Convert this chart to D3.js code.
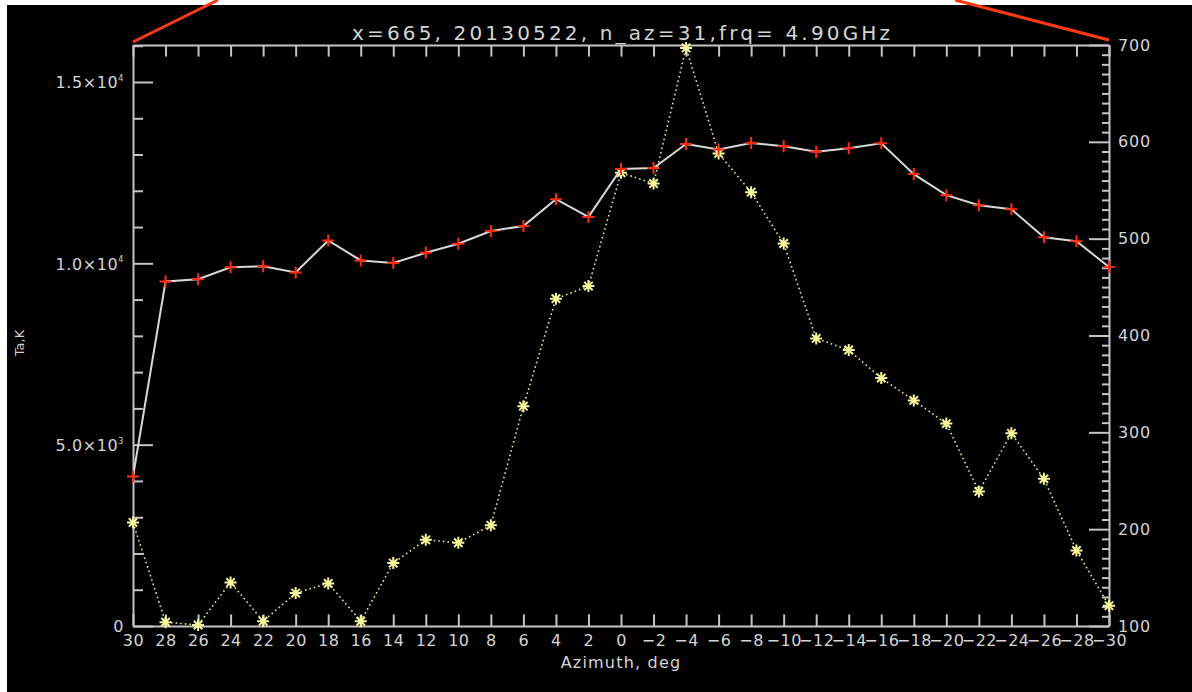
<!DOCTYPE html>
<html>
<head>
<meta charset="utf-8">
<script src="https://cdn.jsdelivr.net/npm/d3@7"></script>
<style>
  body { margin: 0; background: #fff; }
  text { font-family: "DejaVu Sans", sans-serif; fill: #d4d4d4; }
</style>
</head>
<body>
<script>
const width = 1192;
const height = 692;
const margin = { top: 45, right: 83, bottom: 66, left: 133 };

const titleText = "x=665, 20130522, n_az=31,frq= 4.90GHz";

// azimuth, deg (left to right on the plot: 30 ... -30)
const azimuth = [30, 28, 26, 24, 22, 20, 18, 16, 14, 12, 10, 8, 6, 4, 2, 0,
    -2, -4, -6, -8, -10, -12, -14, -16, -18, -20, -22, -24, -26, -28, -30];

// antenna temperature, K (left axis)
const ta = [4120, 9500, 9560, 9890, 9920, 9750, 10630, 10080, 10010, 10290,
    10540, 10890, 11030, 11770, 11280, 12600, 12630, 13290, 13140, 13320,
    13230, 13080, 13170, 13310, 12460, 11880, 11600, 11490, 10720, 10610, 9900];

// second series (right axis)
const second = [207, 104, 101, 145, 105, 134, 144, 105, 165, 189, 186, 204,
    327, 438, 451, 568, 557, 697, 588, 548, 495, 397, 385, 356, 333, 309,
    239, 299, 252, 178, 121];

const xTicks = d3.range(30, -31, -2);
const leftMajor = [0, 5000, 10000, 15000];
const leftLabels = [["0", null], ["5.0\u00d710", "3"], ["1.0\u00d710", "4"], ["1.5\u00d710", "4"]];
const rightMajor = [100, 200, 300, 400, 500, 600, 700];

const axisColor = "#c4c4c4";

const svg = d3.select("body").append("svg")
    .attr("width", width)
    .attr("height", height);

// black plotting surface
svg.append("rect")
    .attr("x", 7).attr("y", 5)
    .attr("width", width - 7).attr("height", height - 5)
    .attr("fill", "#000");

const x = d3.scaleLinear([30, -30], [margin.left, width - margin.right]);
const yL = d3.scaleLinear([0, 16020], [height - margin.bottom, margin.top]);
const yR = d3.scaleLinear([100, 700], [height - margin.bottom, margin.top]);

const x0 = margin.left, x1 = width - margin.right;
const y0 = height - margin.bottom, y1 = margin.top;

// red zoom lines above the frame
svg.append("g")
    .attr("stroke", "#ff3a12")
    .attr("stroke-width", 3)
    .call(g => g.append("line").attr("x1", x0).attr("y1", y1 - 3).attr("x2", 218).attr("y2", 0))
    .call(g => g.append("line").attr("x1", x1).attr("y1", y1 - 5).attr("x2", 955).attr("y2", 0));

// bottom axis
svg.append("g")
    .attr("transform", `translate(0,${y0})`)
    .call(d3.axisBottom(x).tickValues(xTicks).tickSizeInner(-11.6).tickSizeOuter(0).tickPadding(9)
        .tickFormat(d => d < 0 ? "\u2212" + Math.abs(d) : d))
    .call(g => g.select(".domain").attr("stroke", axisColor).attr("stroke-width", 2))
    .call(g => g.selectAll(".tick line").attr("stroke", axisColor).attr("stroke-width", 2))
    .call(g => g.selectAll("text").attr("font-size", 16).attr("fill", "#d4d4d4")
        .attr("font-family", "DejaVu Sans").attr("letter-spacing", 0.5));

// top axis (ticks only)
svg.append("g")
    .attr("transform", `translate(0,${y1})`)
    .call(d3.axisTop(x).tickValues(xTicks).tickSizeInner(-11.6).tickSizeOuter(0).tickFormat(""))
    .call(g => g.select(".domain").attr("stroke", axisColor).attr("stroke-width", 2))
    .call(g => g.selectAll(".tick line").attr("stroke", axisColor).attr("stroke-width", 2));

// left axis, minor ticks
svg.append("g")
    .attr("transform", `translate(${x0},0)`)
    .call(d3.axisLeft(yL).tickValues(d3.range(1000, 16001, 1000).filter(v => v % 5000))
        .tickSizeInner(-10).tickSizeOuter(0).tickFormat(""))
    .call(g => g.select(".domain").remove())
    .call(g => g.selectAll(".tick line").attr("stroke", axisColor).attr("stroke-width", 2));

// left axis, major ticks
svg.append("g")
    .attr("transform", `translate(${x0},0)`)
    .call(d3.axisLeft(yL).tickValues(leftMajor).tickSizeInner(-20).tickSizeOuter(0).tickPadding(11)
        .tickFormat(""))
    .call(g => g.select(".domain").attr("stroke", axisColor).attr("stroke-width", 2))
    .call(g => g.selectAll(".tick line").attr("stroke", axisColor).attr("stroke-width", 2))
    .call(g => g.selectAll(".tick text").each(function (d) {
        const t = d3.select(this)
            .attr("font-size", 16)
            .attr("fill", "#d4d4d4")
            .attr("font-family", "DejaVu Sans")
            .attr("letter-spacing", 0.6)
            .attr("x", -9)
            .attr("dy", "0.36em");
        const lab = leftLabels[leftMajor.indexOf(d)];
        t.text(null);
        t.append("tspan").text(lab[0]);
        if (lab[1]) t.append("tspan").attr("font-size", 8).attr("dy", "-0.9em").text(lab[1]);
    }));

// right axis, minor ticks
svg.append("g")
    .attr("transform", `translate(${x1},0)`)
    .call(d3.axisRight(yR).tickValues(d3.range(110, 700, 10).filter(v => v % 100))
        .tickSizeInner(-7).tickSizeOuter(0).tickFormat(""))
    .call(g => g.select(".domain").remove())
    .call(g => g.selectAll(".tick line").attr("stroke", axisColor).attr("stroke-width", 2));

// right axis, major ticks
svg.append("g")
    .attr("transform", `translate(${x1},0)`)
    .call(d3.axisRight(yR).tickValues(rightMajor).tickSizeInner(-20).tickSizeOuter(0).tickPadding(9))
    .call(g => g.select(".domain").attr("stroke", axisColor).attr("stroke-width", 2))
    .call(g => g.selectAll(".tick line").attr("stroke", axisColor).attr("stroke-width", 2))
    .call(g => g.selectAll("text").attr("font-size", 16).attr("fill", "#d4d4d4")
        .attr("font-family", "DejaVu Sans").attr("letter-spacing", 0.8));

// title and axis labels
svg.append("text")
    .attr("x", (x0 + x1) / 2)
    .attr("y", 40)
    .attr("text-anchor", "middle")
    .attr("font-size", 20)
    .attr("textLength", 538)
    .attr("lengthAdjust", "spacing")
    .text(titleText);

svg.append("text")
    .attr("x", (x0 + x1) / 2)
    .attr("y", 668)
    .attr("text-anchor", "middle")
    .attr("font-size", 16)
    .attr("letter-spacing", 1.2)
    .text("Azimuth, deg");

svg.append("text")
    .attr("transform", `translate(24,343) rotate(-90)`)
    .attr("text-anchor", "middle")
    .attr("font-size", 13)
    .text("Ta,K");

const pts = azimuth.map((a, i) => ({ a, ta: ta[i], s: second[i] }));

// second series: dotted yellow line with asterisks
svg.append("path")
    .datum(pts)
    .attr("fill", "none")
    .attr("stroke", "#e6e68a")
    .attr("stroke-width", 1.6)
    .attr("stroke-dasharray", "1.6,3")
    .attr("d", d3.line().x(d => x(d.a)).y(d => yR(d.s)));

const star = "M-6,0H6M0,-6V6M-4.2,-4.2L4.2,4.2M-4.2,4.2L4.2,-4.2";
svg.append("g")
    .selectAll("path")
    .data(pts)
    .join("path")
    .attr("transform", d => `translate(${x(d.a)},${yR(d.s)})`)
    .attr("d", star)
    .attr("fill", "none")
    .attr("stroke", "#f6f69a")
    .attr("stroke-width", 2);

// Ta series: solid light line with red plus signs
svg.append("path")
    .datum(pts)
    .attr("fill", "none")
    .attr("stroke", "#d8d8d8")
    .attr("stroke-width", 2)
    .attr("d", d3.line().x(d => x(d.a)).y(d => yL(d.ta)));

const plus = "M-6,0H6M0,-6V6";
svg.append("g")
    .selectAll("path")
    .data(pts)
    .join("path")
    .attr("transform", d => `translate(${x(d.a)},${yL(d.ta)})`)
    .attr("d", plus)
    .attr("fill", "none")
    .attr("stroke", "#ff2a10")
    .attr("stroke-width", 2);
</script>
</body>
</html>
